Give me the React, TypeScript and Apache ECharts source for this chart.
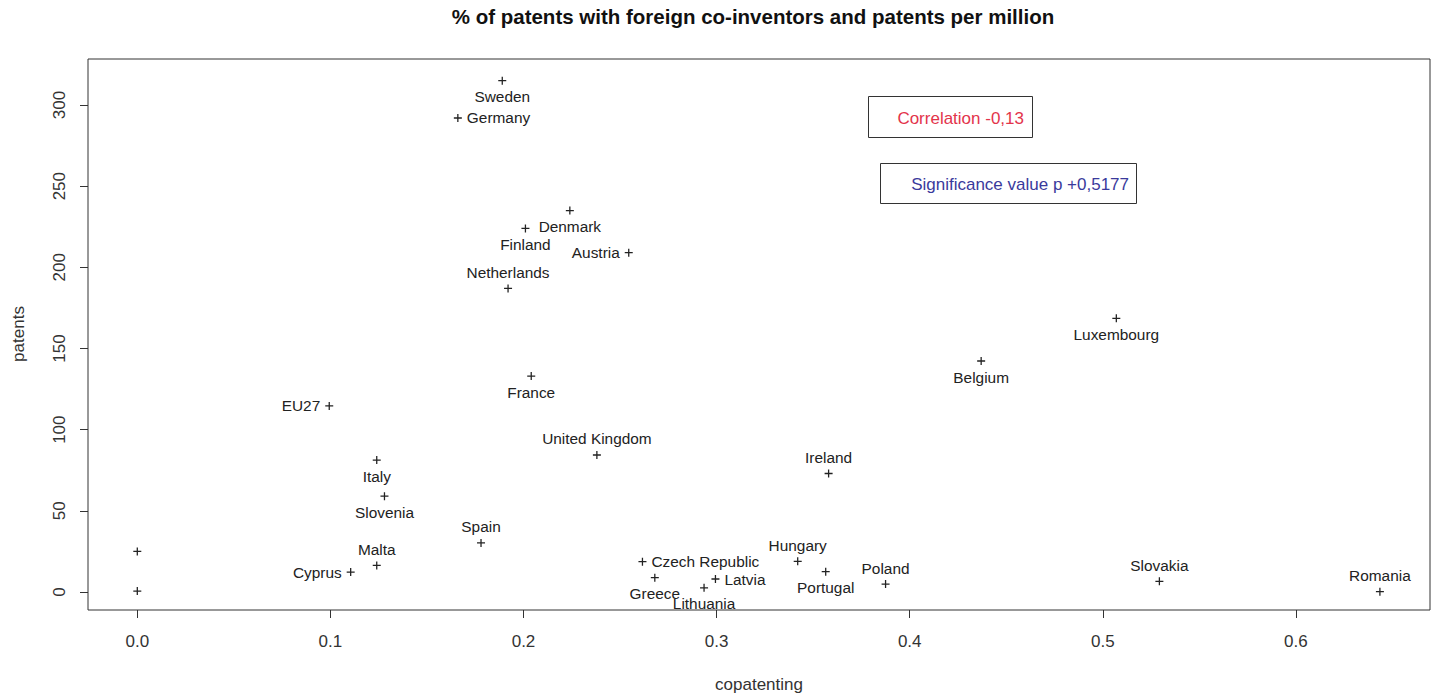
import { useEffect, useRef } from "react";
import * as echarts from "echarts";

// Share of patents with foreign co-inventors (x) against patents per million inhabitants (y)
const countries = [
  "Sweden", "Germany", "Denmark", "Finland", "Austria", "Netherlands", "France", "EU27",
  "United Kingdom", "Ireland", "Belgium", "Luxembourg", "Italy", "Slovenia", "Spain", "Malta",
  "Cyprus", "", "", "Czech Republic", "Greece", "Lithuania", "Latvia", "Hungary",
  "Portugal", "Poland", "Slovakia", "Romania",
];
const copatenting = [
  0.189, 0.166, 0.224, 0.201, 0.2545, 0.192, 0.204, 0.0994,
  0.238, 0.358, 0.437, 0.507, 0.124, 0.128, 0.178, 0.124,
  0.1105, 0.0, 0.0, 0.2616, 0.268, 0.2935, 0.2994, 0.342,
  0.3565, 0.3875, 0.5293, 0.6435,
];
const patents = [
  315, 292, 235, 224, 209, 187, 133, 114.6,
  84.4, 73, 142.3, 168.6, 81.3, 59, 30.2, 16.4,
  12.3, 25, 0.6, 18.7, 8.8, 2.6, 8, 18.9,
  12.5, 4.9, 6.6, 0.2,
];

const xTicks = [0, 0.1, 0.2, 0.3, 0.4, 0.5, 0.6];
const yTicks = [0, 50, 100, 150, 200, 250, 300];

const correlationText = "Correlation -0,13";
const significanceText = "Significance value p +0,5177";

// which side of its point each country name is written on
const labelSide: Record<string, string> = {
  Sweden: "bottom", Germany: "right", Denmark: "bottom", Finland: "bottom",
  Austria: "left", Netherlands: "top", France: "bottom", EU27: "left",
  "United Kingdom": "top", Ireland: "top", Belgium: "bottom", Luxembourg: "bottom",
  Italy: "bottom", Slovenia: "bottom", Spain: "top", Malta: "top", Cyprus: "left",
  "Czech Republic": "right", Greece: "bottom", Lithuania: "bottom", Latvia: "right",
  Hungary: "top", Portugal: "bottom", Poland: "top", Slovakia: "top", Romania: "top",
};

const FONT = "'Liberation Sans', Arial, Helvetica, sans-serif";
const INK = "#222";
const PLUS = "path://M4.2,0H5.8V4.2H10V5.8H5.8V10H4.2V5.8H0V4.2H4.2Z";

export default function App() {
  const ref = useRef<HTMLDivElement>(null);

  useEffect(() => {
    if (!ref.current) return;
    const chart = echarts.init(ref.current, undefined, { renderer: "svg" });

    const points = countries.map((name, i) => {
      const side = labelSide[name] || "top";
      const horizontal = side === "left" || side === "right";
      return {
        name,
        value: [copatenting[i], patents[i]],
        label: {
          show: name !== "",
          position: side,
          distance: horizontal ? 5 : 4.5,
        },
      };
    });

    chart.setOption({
      animation: false,
      backgroundColor: "#fff",
      textStyle: { fontFamily: FONT },
      grid: {
        left: 88,
        right: 3,
        top: 59,
        bottom: 87,
        show: true,
        borderColor: "#333",
        borderWidth: 1,
        backgroundColor: "transparent",
      },
      xAxis: {
        type: "value",
        position: "bottom",
        min: -0.02553,
        max: 0.66944,
        axisLine: { show: false, onZero: false },
        splitLine: { show: false },
        axisTick: {
          show: true,
          inside: false,
          length: 8,
          customValues: xTicks,
          lineStyle: { color: "#333", width: 1 },
        },
        axisLabel: {
          customValues: xTicks,
          formatter: (v: number) => v.toFixed(1),
          fontSize: 17,
          color: "#333",
          fontFamily: FONT,
          margin: 23,
        },
      },
      yAxis: {
        type: "value",
        position: "left",
        min: -11.09,
        max: 328.34,
        axisLine: { show: false, onZero: false },
        splitLine: { show: false },
        axisTick: {
          show: true,
          inside: false,
          length: 8,
          customValues: yTicks,
          lineStyle: { color: "#333", width: 1 },
        },
        axisLabel: {
          customValues: yTicks,
          formatter: (v: number) => String(v),
          rotate: 90,
          fontSize: 17,
          color: "#333",
          fontFamily: FONT,
          margin: 20,
        },
      },
      series: [
        {
          type: "scatter",
          symbol: PLUS,
          symbolSize: 8,
          itemStyle: { color: INK, opacity: 1 },
          label: {
            formatter: "{b}",
            fontSize: 15.4,
            color: INK,
            fontFamily: FONT,
          },
          emphasis: { disabled: true },
          data: points,
        },
      ],
      graphic: [
        {
          type: "text",
          x: 753,
          y: 16,
          style: {
            text: "% of patents with foreign co-inventors and patents per million",
            font: `bold 20.5px ${FONT}`,
            fill: "#111",
            align: "center",
            verticalAlign: "middle",
          },
        },
        {
          type: "text",
          x: 759,
          y: 684,
          style: {
            text: "copatenting",
            font: `17px ${FONT}`,
            fill: "#333",
            align: "center",
            verticalAlign: "middle",
          },
        },
        {
          type: "text",
          x: 18,
          y: 334,
          rotation: Math.PI / 2,
          style: {
            text: "patents",
            font: `17px ${FONT}`,
            fill: "#333",
            align: "center",
            verticalAlign: "middle",
          },
        },
        {
          type: "rect",
          shape: { x: 868.5, y: 96.5, width: 164, height: 41 },
          style: { fill: "#fff", stroke: "#333", lineWidth: 1 },
        },
        {
          type: "text",
          x: 1024,
          y: 118,
          style: {
            text: correlationText,
            font: `17px ${FONT}`,
            fill: "#e3344b",
            align: "right",
            verticalAlign: "middle",
          },
        },
        {
          type: "rect",
          shape: { x: 880.5, y: 163.5, width: 256, height: 40 },
          style: { fill: "#fff", stroke: "#333", lineWidth: 1 },
        },
        {
          type: "text",
          x: 1129,
          y: 184,
          style: {
            text: significanceText,
            font: `17px ${FONT}`,
            fill: "#3a3a9c",
            align: "right",
            verticalAlign: "middle",
          },
        },
      ],
    });

    return () => chart.dispose();
  }, []);

  return (
    <div
      ref={ref}
      style={{ position: "fixed", left: 0, top: 0, width: 1433, height: 697, background: "#fff" }}
    />
  );
}
